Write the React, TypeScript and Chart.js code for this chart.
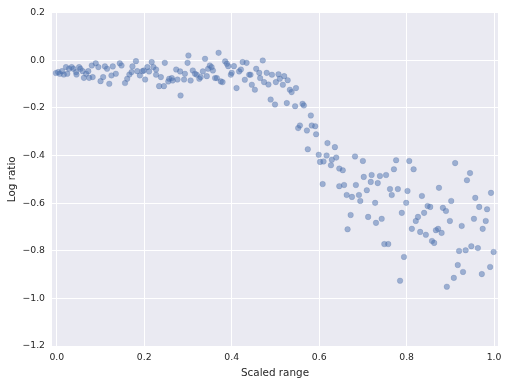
import React, { useEffect, useRef } from "react";
import { Chart, registerables } from "chart.js";

Chart.register(...registerables);

const xs: number[] = [
  -0.002, 0.003, 0.007, 0.012, 0.016, 0.021, 0.024, 0.028, 0.034, 0.038,
  0.044, 0.045, 0.051, 0.054, 0.059, 0.062, 0.067, 0.072, 0.074, 0.080,
  0.082, 0.089, 0.095, 0.100, 0.106, 0.110, 0.115, 0.120, 0.125, 0.128,
  0.135, 0.144, 0.148, 0.156, 0.161, 0.166, 0.171, 0.173, 0.181, 0.184,
  0.190, 0.196,
  0.199, 0.202, 0.207, 0.211, 0.217, 0.221, 0.227, 0.227, 0.234, 0.238,
  0.245, 0.247, 0.255, 0.257, 0.263, 0.265, 0.273, 0.276, 0.282, 0.283,
  0.291, 0.293, 0.299, 0.301, 0.306, 0.311, 0.316, 0.320, 0.326, 0.329,
  0.334, 0.339, 0.343, 0.346, 0.350, 0.354, 0.357, 0.362, 0.366, 0.370,
  0.375, 0.379, 0.385, 0.389, 0.392, 0.398, 0.400, 0.405,
  0.411, 0.417, 0.421, 0.425, 0.430, 0.434, 0.440, 0.443, 0.446, 0.453,
  0.456, 0.463, 0.465, 0.471, 0.474, 0.480, 0.484, 0.489, 0.492, 0.499,
  0.501, 0.507, 0.510, 0.517, 0.520, 0.526, 0.528, 0.533, 0.537, 0.545,
  0.547, 0.552, 0.556, 0.562, 0.565, 0.572, 0.574, 0.581, 0.583, 0.591,
  0.593, 0.599, 0.602, 0.608, 0.610,
  0.617, 0.619, 0.627, 0.629, 0.636, 0.639, 0.646, 0.646, 0.654, 0.657,
  0.663, 0.665, 0.672, 0.675, 0.682, 0.684, 0.691, 0.694, 0.700, 0.702,
  0.709, 0.712, 0.718, 0.720, 0.728, 0.730, 0.734, 0.739, 0.743, 0.749,
  0.753, 0.758, 0.762, 0.766, 0.771, 0.776, 0.780, 0.785, 0.789, 0.794,
  0.799, 0.802, 0.806,
  0.812, 0.816, 0.821, 0.826, 0.831, 0.835, 0.840, 0.844, 0.848, 0.854,
  0.858, 0.863, 0.867, 0.872, 0.874, 0.880, 0.883, 0.890, 0.892, 0.899,
  0.902, 0.908, 0.911, 0.917, 0.920, 0.926, 0.929, 0.935, 0.938, 0.945,
  0.948, 0.954, 0.957, 0.963, 0.966, 0.972, 0.974, 0.981, 0.984, 0.991,
  0.993, 0.999,
];

const ys: number[] = [
  -0.054, -0.050, -0.057, -0.046, -0.060, -0.029, -0.057, -0.036, -0.029, -0.036,
  -0.050, -0.060, -0.029, -0.036, -0.046, -0.074, -0.057, -0.046, -0.074, -0.022,
  -0.071, -0.013, -0.029, -0.088, -0.071, -0.026, -0.036, -0.099, -0.064, -0.026,
  -0.057, -0.013, -0.022, -0.096, -0.078, -0.060, -0.050, -0.026, -0.004, -0.046,
  -0.064, -0.046,
  -0.043, -0.081, -0.029, -0.047, -0.008, -0.029, -0.039, -0.061, -0.109, -0.071,
  -0.109, -0.011, -0.089, -0.078, -0.075, -0.085, -0.039, -0.081, -0.047, -0.148,
  -0.081, -0.057, -0.011, 0.020, -0.085, -0.043, -0.057, -0.061, -0.078, -0.071,
  -0.047, 0.006, -0.067, -0.036, -0.022, -0.029, -0.043, -0.075, -0.075, 0.031,
  -0.089, -0.092, -0.005, -0.015, -0.025, -0.061, -0.053, -0.025,
  -0.117, -0.047, -0.039, -0.008, -0.082, -0.011, -0.061, -0.061, -0.103, -0.124,
  -0.036, -0.053, -0.075, -0.001, -0.092, -0.053, -0.102, -0.165, -0.061, -0.186,
  -0.092, -0.059, -0.078, -0.103, -0.067, -0.180, -0.084, -0.124, -0.134, -0.193,
  -0.117, -0.285, -0.274, -0.183, -0.190, -0.295, -0.374, -0.232, -0.274, -0.277,
  -0.311, -0.397, -0.427, -0.520, -0.425,
  -0.400, -0.348, -0.441, -0.418, -0.365, -0.409, -0.455, -0.529, -0.462, -0.524,
  -0.566, -0.710, -0.650, -0.574, -0.404, -0.524, -0.566, -0.591, -0.423, -0.490,
  -0.546, -0.658, -0.511, -0.482, -0.599, -0.683, -0.516, -0.486, -0.666, -0.772,
  -0.482, -0.772, -0.541, -0.566, -0.458, -0.420, -0.541, -0.926, -0.641, -0.826,
  -0.599, -0.549, -0.423,
  -0.708, -0.458, -0.675, -0.658, -0.721, -0.570, -0.641, -0.733, -0.612, -0.616,
  -0.759, -0.767, -0.714, -0.708, -0.536, -0.725, -0.620, -0.633, -0.951, -0.675,
  -0.591, -0.914, -0.432, -0.860, -0.801, -0.696, -0.889, -0.798, -0.504, -0.474,
  -0.781, -0.666, -0.578, -0.789, -0.616, -0.898, -0.708, -0.675, -0.626, -0.868,
  -0.557, -0.805,
];

const xTicks: number[] = [0.0, 0.2, 0.4, 0.6, 0.8, 1.0];
const yTicks: number[] = [-1.2, -1.0, -0.8, -0.6, -0.4, -0.2, 0.0, 0.2];
const xLabel = "Scaled range";
const yLabel = "Log ratio";

const TEXT = "#262626";
const FONT = "'DejaVu Sans', sans-serif";

const fmt = (v: number) => {
  const s = Math.abs(v).toFixed(1);
  return v < -1e-9 ? "\u2212" + s : s;
};

const bgPlugin = {
  id: "bgArea",
  beforeDraw(chart: any) {
    const { ctx, chartArea } = chart;
    if (!chartArea) return;
    ctx.save();
    ctx.fillStyle = "#EAEAF2";
    ctx.fillRect(chartArea.left, chartArea.top, chartArea.right - chartArea.left, chartArea.bottom - chartArea.top);
    ctx.restore();
  },
};

export default function App() {
  const ref = useRef<HTMLCanvasElement | null>(null);

  useEffect(() => {
    if (!ref.current) return;
    const chart = new Chart(ref.current, {
      type: "scatter",
      data: {
        datasets: [
          {
            data: xs.map((x, i) => ({ x, y: ys[i] })),
            backgroundColor: "rgba(76,114,176,0.5)",
            borderColor: "rgba(76,106,160,0.4)",
            borderWidth: 0.5,
            pointRadius: 2.8,
          },
        ],
      },
      options: {
        responsive: false,
        animation: false,
        layout: { padding: { top: 12, right: 10, left: 0, bottom: 0 } },
        plugins: { legend: { display: false }, tooltip: { enabled: false } },
        scales: {
          x: {
            type: "linear",
            min: -0.011,
            max: 1.009,
            afterBuildTicks: (s: any) => {
              s.ticks = xTicks.map((v) => ({ value: v }));
            },
            afterFit: (s: any) => {
              s.height = 40;
            },
            grid: { color: "#ffffff", lineWidth: 1, drawTicks: false },
            border: { display: false },
            ticks: {
              padding: 6,
              color: TEXT,
              font: { family: FONT, size: 9.3 },
              maxRotation: 0,
              callback: (v: any) => fmt(Number(v)),
            },
            title: {
              display: true,
              text: xLabel,
              color: TEXT,
              font: { family: FONT, size: 10.4 },
              padding: { top: 0, bottom: 6 },
            },
          },
          y: {
            type: "linear",
            min: -1.2,
            max: 0.2,
            afterBuildTicks: (s: any) => {
              s.ticks = yTicks.map((v) => ({ value: v }));
            },
            afterFit: (s: any) => {
              s.width = 52;
            },
            grid: { color: "#ffffff", lineWidth: 1, drawTicks: false },
            border: { display: false },
            ticks: {
              padding: 7,
              color: TEXT,
              font: { family: FONT, size: 9.3 },
              callback: (v: any) => fmt(Number(v)),
            },
            title: {
              display: true,
              text: yLabel,
              color: TEXT,
              font: { family: FONT, size: 10.4 },
              padding: { top: 6, bottom: 0 },
            },
          },
        },
      },
      plugins: [bgPlugin],
    });
    return () => chart.destroy();
  }, []);

  return (
    <div style={{ position: "fixed", left: 0, top: 0, width: 508, height: 386, background: "#ffffff" }}>
      <canvas ref={ref} width={508} height={386} style={{ width: 508, height: 386, display: "block" }} />
    </div>
  );
}
